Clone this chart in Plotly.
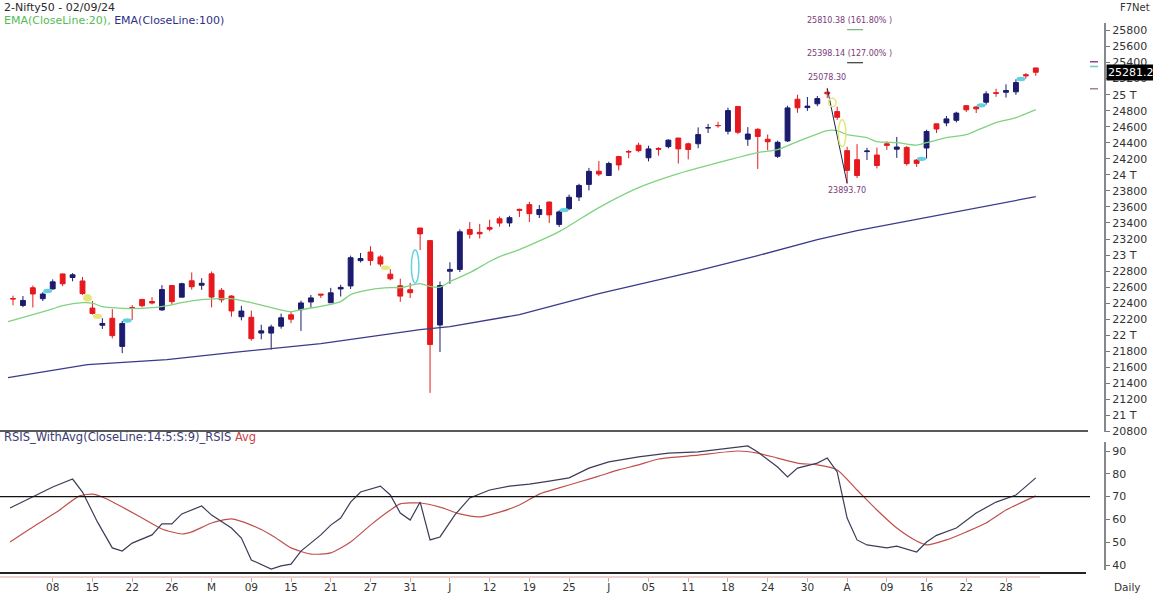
import plotly.graph_objects as go

# ---------------- data ----------------
dates = ["Apr02","Apr03","Apr04","Apr05","Apr08","Apr09","Apr10","Apr12","Apr15","Apr16",
         "Apr18","Apr19","Apr22","Apr23","Apr24","Apr25","Apr26","Apr29","Apr30","May02",
         "May03","May06","May07","May08","May09","May10","May13","May14","May15","May16",
         "May17","May18","May21","May22","May23","May24","May27","May28","May29","May30",
         "May31","Jun03","Jun04","Jun05","Jun06","Jun07","Jun10","Jun11","Jun12","Jun13",
         "Jun14","Jun18","Jun19","Jun20","Jun21","Jun24","Jun25","Jun26","Jun27","Jun28",
         "Jul01","Jul02","Jul03","Jul04","Jul05","Jul08","Jul09","Jul10","Jul11","Jul12",
         "Jul15","Jul16","Jul18","Jul19","Jul22","Jul23","Jul24","Jul25","Jul26","Jul29",
         "Jul30","Jul31","Aug01","Aug02","Aug05","Aug06","Aug07","Aug08","Aug09","Aug12",
         "Aug13","Aug14","Aug16","Aug19","Aug20","Aug21","Aug22","Aug23","Aug26","Aug27",
         "Aug28","Aug29","Aug30","Sep02"]
opens = [22458,22372,22592,22456,22578,22765,22720,22677,22339,22125,
         22212,21861,22345,22447,22421,22316,22620,22475,22679,22624,
         22766,22561,22489,22231,22224,22027,22027,22113,22255,22319,
         22415,22513,22405,22577,22615,22930,23038,22977,22762,22617,
         22568,23337,23180,22128,22798,22821,23319,23283,23344,23453,
         23401,23570,23629,23505,23661,23382,23578,23724,23881,24045,
         23992,24228,24291,24369,24213,24329,24352,24459,24387,24388,
         24587,24615,24544,24853,24445,24568,24444,24231,24423,24943,
         24839,24886,25030,24789,24302,24189,24290,24247,24387,24320,
         24342,24184,24335,24636,24648,24680,24863,24846,24906,25024,
         25030,25035,25249,25333]
highs = [22494,22489,22620,22537,22697,22768,22775,22727,22427,22213,
         22326,22179,22376,22447,22476,22625,22620,22655,22783,22711,
         22795,22588,22499,22368,22307,22131,22132,22270,22297,22432,
         22502,22513,22591,22629,22993,23026,23110,22998,22825,22705,
         22653,23338,23180,22670,22910,23320,23412,23389,23441,23481,
         23490,23579,23664,23624,23667,23558,23754,23889,24087,24174,
         24164,24237,24309,24401,24363,24345,24443,24461,24402,24592,
         24635,24661,24838,24855,24595,24582,24504,24426,24862,24999,
         24971,24984,25078,24851,24350,24383,24337,24340,24419,24473,
         24359,24196,24563,24638,24734,24787,24867,24858,25044,25073,
         25129,25192,25269,25333]
lows = [22374,22350,22346,22427,22568,22612,22673,22504,22259,22079,
        21961,21777,22190,22349,22384,22305,22385,22475,22568,22567,
        22348,22409,22232,22186,21933,21950,21821,22082,22151,22054,
        22345,22465,22404,22483,22577,22908,22871,22858,22685,22417,
        22465,23062,21281,21791,22642,22789,23206,23207,23296,23353,
        23353,23474,23412,23462,23398,23350,23563,23674,23806,23985,
        23992,24056,24207,24281,24168,24240,24331,24141,24193,24332,
        24522,24587,24504,24508,24362,24074,24307,24211,24411,24774,
        24798,24856,24956,24686,23894,23960,24185,24079,24311,24212,
        24116,24099,24204,24522,24607,24654,24784,24771,24875,24973,
        24964,24998,25199,25235]
closes = [22453,22434,22515,22514,22666,22642,22754,22519,22272,22147,
          21995,22147,22336,22368,22402,22570,22419,22643,22605,22648,
          22476,22442,22303,22302,21958,22055,22104,22218,22200,22403,
          22466,22502,22529,22597,22967,22957,22932,22888,22704,22488,
          22531,23264,21884,22620,22821,23290,23259,23265,23323,23399,
          23466,23558,23516,23567,23501,23538,23721,23868,24044,24010,
          24141,24124,24286,24302,24324,24320,24433,24324,24316,24502,
          24587,24614,24801,24531,24509,24479,24413,24406,24835,24836,
          24857,24951,25011,24718,24056,23992,24297,24117,24368,24347,
          24140,24143,24541,24572,24698,24770,24811,24823,25010,25017,
          25052,25151,25236,25279]

tick_bars = [4,8,12,16,20,24,28,32,36,40,44,48,52,56,60,64,68,72,76,80,84,88,92,96,100]
tick_labels = ["08","15","22","26","M","09","15","21","27","31","J","12","19","25","J",
               "05","11","18","24","30","A","09","16","22","28"]

ema20_bars = [-0.5,2,4,5,7,8,9,10,12,14,16,17,19,21,22,24,26,28,29,31,33,34,36,38,39,41,42,43,
              44,46,48,49,51,55,59,63,67,71,75,77,79,82,83,84,86,87,89,91,92,94,96,97,99,101,103]
ema20_vals = [22169,22257,22330,22369,22406,22400,22356,22344,22331,22344,22380,22406,22444,22456,
              22456,22406,22345,22294,22319,22360,22420,22506,22568,22593,22593,22643,22610,22600,
              22668,22780,22920,22980,23067,23292,23591,23840,24015,24152,24277,24314,24414,24551,
              24551,24501,24464,24414,24401,24370,24401,24464,24501,24551,24651,24713,24813]

ema100_bars = [-0.5,7.5,15.5,22,31,41,44,51,59,69,75,81,85,92,97,103]
ema100_vals = [21471,21633,21695,21783,21895,22070,22107,22257,22519,22805,22993,23192,23304,
               23466,23591,23728]

rsi_bars = [-0.3,2,4,6,7,8.5,10,11,12,14,15,16,17,19,20,22,23,24,26,27,28,29,31,32,33,34,35,37,
            38,39,40,41,42,43,44.5,46,48,50,52,54,56,58,60,63,66,69,72,74,75,77,78,79,81,82,83,
            84,85,86,88,89,91,92,93,95,97,99,101,103]
rsi_vals = [65.0,69.8,74.2,77.7,72.0,58.9,47.5,46.1,49.6,53.2,58.0,58.0,62.4,65.9,61.9,56.2,51.8,
            42.2,38.2,39.6,40.4,46.1,53.2,57.5,60.6,67.6,72.0,74.6,70.7,62.8,59.7,67.6,51.0,52.3,
            62.0,69.4,72.9,74.6,75.5,76.8,78.2,82.5,85.2,87.4,89.1,89.6,91.3,92.2,89.6,83.0,78.6,
            82.5,84.7,86.9,80.8,60.6,51.0,48.8,47.5,48.3,45.7,50.1,53.0,56.2,62.8,67.6,70.7,78.2]
avg_bars = [-0.3,2,4.4,6.7,8,9,11,13,15,17,18,20,22,24,26,28,30,32,34,36,38,39,41,43,45,47,49,51,
            53,55,57,59,61,63,65,69,73,75,77,79,81,83,85,87,89,91,92,94,96,98,100,103]
avg_vals = [50.1,56.7,63.2,70.3,71.1,69.8,65.4,60.6,55.8,53.6,54.5,58.4,60.2,57.5,53.2,47.5,44.8,
            45.3,50.1,57.5,64.1,66.8,67.2,65.4,62.4,61.1,63.2,66.3,71.1,73.8,76.4,79.0,81.7,83.9,
            86.5,88.2,90.0,89.1,86.9,84.7,83.9,81.7,72.9,64.1,56.2,50.5,48.8,51.0,54.5,58.4,64.1,70.3]

price_ticks = list(range(20800, 25801, 200))
price_tick_text = [f"{v // 1000} T" if v % 1000 == 0 else str(v) for v in price_ticks]
rsi_ticks = [40, 50, 60, 70, 80, 90]
rsi_level = 70

swing_bars = [82, 84]
swing_prices = [25078.30, 23893.70]
fib_levels = [25398.14, 25810.38]
fib_pcts = ["127.00%", "161.80%"]
fib_colors = ["#111111", "#77bb77"]
side_marks = [25410, 25350, 25075]
side_colors = ["#8a4a8a", "#66cccc", "#aa8090"]
last_price = 25281.2

# ---------------- geometry ----------------
W, H = 1153, 596
PR = 49
PW = W - PR
PX_PER_BAR = 9.93
X0 = -13 / PX_PER_BAR
X1 = X0 + PW / PX_PER_BAR
PX_PER_PT = 0.0802

def xp(px):
    return px / PW

def yp(py):
    return 1 - py / H

price_bottom_px, price_top_px = 431.5, 23
y_range = [20800, 20800 + (price_bottom_px - price_top_px) / PX_PER_PT]
rsi_top_px, rsi_bot_px = 442, 570
RSI_PX = 2.28
rsi_range = [40 - (rsi_bot_px - 565) / RSI_PX, 90 + (451 - rsi_top_px) / RSI_PX]

UP = "#1b1c6e"
DOWN = "#e5191e"
FONT = "DejaVu Sans"
TXT = "#333333"

fig = go.Figure()
bars = list(range(len(opens)))
fig.add_trace(go.Candlestick(
    x=bars, open=opens, high=highs, low=lows, close=closes,
    increasing=dict(line=dict(color=UP, width=1), fillcolor=UP),
    decreasing=dict(line=dict(color=DOWN, width=1), fillcolor=DOWN),
    whiskerwidth=0, xaxis="x", yaxis="y", showlegend=False, hoverinfo="skip"))
fig.add_trace(go.Scatter(x=ema20_bars, y=ema20_vals, mode="lines",
                         line=dict(color="#7fd37f", width=1.3, shape="spline", smoothing=0.6),
                         xaxis="x", yaxis="y", showlegend=False, hoverinfo="skip"))
fig.add_trace(go.Scatter(x=ema100_bars, y=ema100_vals, mode="lines",
                         line=dict(color="#3b3b8a", width=1.3), xaxis="x", yaxis="y",
                         showlegend=False, hoverinfo="skip"))
fig.add_trace(go.Scatter(x=swing_bars, y=swing_prices, mode="lines",
                         line=dict(color="#222244", width=1), xaxis="x", yaxis="y",
                         showlegend=False, hoverinfo="skip"))
fig.add_trace(go.Scatter(x=avg_bars, y=avg_vals, mode="lines",
                         line=dict(color="#c0504d", width=1.2, shape="spline", smoothing=0.6),
                         xaxis="x", yaxis="y2", showlegend=False, hoverinfo="skip"))
fig.add_trace(go.Scatter(x=rsi_bars, y=rsi_vals, mode="lines",
                         line=dict(color="#3c3c58", width=1.2), xaxis="x", yaxis="y2",
                         showlegend=False, hoverinfo="skip"))

shapes = []
# gap markers
for i in range(1, len(opens)):
    kind = None
    if lows[i] > highs[i - 1]:
        lo, hi, col = highs[i - 1], lows[i], "#62d2e0"
        kind = 1
    elif highs[i] < lows[i - 1]:
        lo, hi, col = highs[i], lows[i - 1], "#e6e67a"
        kind = 2
    if kind:
        mid = (lo + hi) / 2
        half = max((hi - lo) / 2, 18)
        small = (hi - lo) < 80
        shapes.append(dict(type="circle", xref="x", yref="y",
                           x0=i - 0.5 - 0.38, x1=i - 0.5 + 0.38, y0=mid - half, y1=mid + half,
                           line=dict(color=col, width=1.5),
                           fillcolor=col if small else "rgba(0,0,0,0)", layer="above"))
# fib level segments
for lvl, col in zip(fib_levels, fib_colors):
    shapes.append(dict(type="line", xref="x", yref="y", x0=swing_bars[1], x1=swing_bars[1] + 1.6,
                       y0=lvl, y1=lvl, line=dict(color=col, width=1.2)))
# side marks
for lvl, col in zip(side_marks, side_colors):
    shapes.append(dict(type="line", xref="paper", yref="y", x0=xp(1090), x1=xp(1098),
                       y0=lvl, y1=lvl, line=dict(color=col, width=1.5)))
# panel lines
shapes.append(dict(type="line", xref="paper", yref="paper", x0=0, x1=xp(1088),
                   y0=yp(431), y1=yp(431), line=dict(color="#5a5a5a", width=2)))
shapes.append(dict(type="line", xref="paper", yref="paper", x0=0, x1=xp(1086),
                   y0=yp(573), y1=yp(573), line=dict(color="#222222", width=2)))
shapes.append(dict(type="line", xref="paper", yref="paper", x0=0, x1=xp(1040),
                   y0=yp(577), y1=yp(577), line=dict(color="#d9a3a3", width=1)))
shapes.append(dict(type="line", xref="paper", yref="y2", x0=0, x1=xp(1090),
                   y0=rsi_level, y1=rsi_level, line=dict(color="#111111", width=1.2)))

ann = []
def text(px, py, s, color=TXT, size=11, anchor="left"):
    ann.append(dict(xref="paper", yref="paper", x=xp(px), y=yp(py), text=s, showarrow=False,
                    xanchor=anchor, yanchor="middle", font=dict(family=FONT, size=size, color=color)))

text(2, 8, "2-Nifty50 - 02/09/24", "#2a2a2a", 11)
text(2, 21, "<span style='color:#55bb55'>EMA(CloseLine:20),</span> "
            "<span style='color:#2f2f88'>EMA(CloseLine:100)</span>", TXT, 11)
text(1118, 8, "F7Net", "#333333", 10)
text(2, 437, "<span style='color:#3a3a70'>RSIS_WithAvg(CloseLine:14:5:S:9)_RSIS</span> "
             "<span style='color:#cc4444'>Avg</span>", TXT, 11.5)
text(1112, 587, "Daily", "#333333", 10.5)

FIBC = "#7a3a7a"
for lvl, pct in zip(fib_levels, fib_pcts):
    ann.append(dict(xref="paper", yref="y", x=xp(805), y=lvl, yshift=9, text=f"{lvl:.2f} ({pct} )",
                    showarrow=False, xanchor="left", yanchor="middle",
                    font=dict(family=FONT, size=8, color=FIBC)))
ann.append(dict(xref="x", yref="y", x=swing_bars[0], y=swing_prices[0], yshift=11,
                text=f"{swing_prices[0]:.2f}", showarrow=False, xanchor="center", yanchor="middle",
                font=dict(family=FONT, size=8, color=FIBC)))
ann.append(dict(xref="x", yref="y", x=swing_bars[1], y=swing_prices[1], yshift=-1,
                text=f"{swing_prices[1]:.2f}", showarrow=False, xanchor="center", yanchor="top",
                font=dict(family=FONT, size=8, color=FIBC)))
ann.append(dict(xref="paper", yref="y", x=xp(1106), y=last_price, text=f"{last_price:.1f}",
                showarrow=False, xanchor="left", yanchor="middle", bgcolor="#000000",
                borderpad=1, font=dict(family=FONT, size=11, color="#ffffff")))

fig.update_layout(
    width=W, height=H, margin=dict(l=0, r=PR, t=0, b=0),
    paper_bgcolor="white", plot_bgcolor="white", showlegend=False,
    font=dict(family=FONT, size=11, color=TXT),
    shapes=shapes, annotations=ann,
    xaxis=dict(domain=[0, 1], range=[X0, X1], anchor="free", position=yp(577),
               tickmode="array", tickvals=tick_bars, ticktext=tick_labels,
               ticks="outside", ticklen=4, tickcolor="#d9a3a3", showline=False,
               ticklabelstandoff=-4,
               showgrid=False, zeroline=False, rangeslider=dict(visible=False),
               tickfont=dict(family=FONT, size=10.5, color=TXT), automargin=False),
    yaxis=dict(domain=[yp(price_bottom_px), yp(price_top_px)], range=y_range, side="right",
               anchor="x", tickmode="array", tickvals=price_ticks, ticktext=price_tick_text,
               ticks="outside", ticklen=4, tickcolor="#777777", showline=True,
               linecolor="#888888", linewidth=2, showgrid=False, zeroline=False,
               tickfont=dict(family=FONT, size=11, color=TXT), automargin=False),
    yaxis2=dict(domain=[yp(rsi_bot_px), yp(rsi_top_px)], range=rsi_range, side="right",
                anchor="x", tickmode="array", tickvals=rsi_ticks, ticks="outside", ticklen=4,
                tickcolor="#777777", showline=True, linecolor="#888888", linewidth=2,
                showgrid=False, zeroline=False,
                tickfont=dict(family=FONT, size=11, color=TXT), automargin=False),
)

fig.write_html("out.html")
